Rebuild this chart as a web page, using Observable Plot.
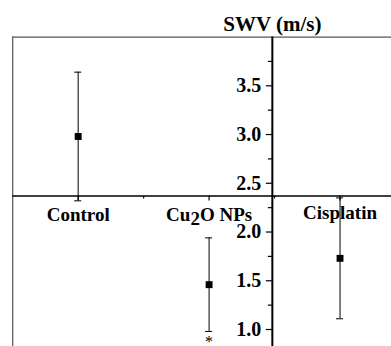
<!DOCTYPE html>
<html>
<head>
<meta charset="utf-8">
<script src="https://cdn.jsdelivr.net/npm/d3@7"></script>
<script src="https://cdn.jsdelivr.net/npm/@observablehq/plot@0.6"></script>
<style>
  html, body { margin: 0; padding: 0; background: #fff; }
</style>
</head>
<body>
<div id="chart"></div>
<script>
// ---- data ----
const categories = ["Control", "Cu2O NPs", "Cisplatin"];
const means = [2.98, 1.46, 1.73];
const errors = [0.66, 0.48, 0.62];
const significance = ["", "*", ""];
const majorTicks = [1.0, 1.5, 2.0, 2.5, 3.0, 3.5];
const minorTicks = [1.25, 1.75, 2.25, 2.75, 3.25, 3.75];
const yTitle = "SWV (m/s)";

// ---- layout (scale settings) ----
const W = 391, H = 346;
const xDomain = [0.5, 3.5], xRange = [12.2, 405];
const yDomain = [1, 3.5], yRange = [329, 85.3];
const xCross = 2.483;   // where the y axis sits (x value)
const yCross = 2.37;    // where the x axis sits (y value)
const yTop = 4.0, yBottom = 0.5;

const xs = d3.scaleLinear(xDomain, xRange);
const ys = d3.scaleLinear(yDomain, yRange);

const rows = categories.map((c, i) => ({
  i: i + 1, name: c, mean: means[i], lo: means[i] - errors[i], hi: means[i] + errors[i], sig: significance[i]
}));

const font = "Liberation Serif";

const plot = Plot.plot({
  width: W,
  height: H,
  marginLeft: xs(xCross),
  marginRight: 0,
  marginTop: 0,
  marginBottom: H - ys(yCross),
  style: "background: #fff; color: #000; overflow: hidden; font-family: 'Liberation Serif';",
  x: { type: "linear", domain: xDomain, range: xRange, axis: null },
  y: { type: "linear", domain: yDomain, range: yRange, axis: null },
  marks: [
    Plot.ruleY([yTop], { x1: xDomain[0], x2: xDomain[1], stroke: "#555", strokeWidth: 1.2 }),
    Plot.ruleX([xDomain[0]], { y1: yTop, y2: yBottom, stroke: "#555", strokeWidth: 1.2 }),
    Plot.ruleY([yCross], { x1: xDomain[0], x2: xDomain[1], stroke: "#000", strokeWidth: 1.4 }),
    Plot.ruleX([xCross], { y1: yTop, y2: yBottom, stroke: "#000", strokeWidth: 2 }),
    Plot.axisY({
      anchor: "left", ticks: majorTicks, tickSize: 6, tickPadding: 5,
      tickFormat: d3.format(".1f"), label: null,
      fontSize: 20, fontWeight: "bold", strokeWidth: 1.2
    }),
    Plot.axisY({
      anchor: "left", ticks: minorTicks, tickSize: 4, tickFormat: () => "", label: null, strokeWidth: 1.2
    }),
    Plot.axisX({
      anchor: "bottom", ticks: [1, 2, 3], tickSize: 5, tickFormat: () => "", label: null, strokeWidth: 1.2
    }),
    Plot.axisX({
      anchor: "bottom", ticks: [1.5, 2.5], tickSize: 3, tickFormat: () => "", label: null, strokeWidth: 1.2
    }),
    Plot.text(rows, {
      x: "i", y: () => yCross, text: "name", lineAnchor: "bottom",
      fontSize: 19, fontWeight: "bold", fill: "#000"
    }),
    Plot.ruleX(rows, { x: "i", y1: "lo", y2: "hi", stroke: "#000", strokeWidth: 1 }),
    Plot.ruleY(rows, { y: "lo", x1: (d) => d.i - 0.027, x2: (d) => d.i + 0.027, stroke: "#000", strokeWidth: 1 }),
    Plot.ruleY(rows, { y: "hi", x1: (d) => d.i - 0.027, x2: (d) => d.i + 0.027, stroke: "#000", strokeWidth: 1 }),
    Plot.dot(rows, { x: "i", y: "mean", symbol: "square", r: 3.9, fill: "#000", stroke: "none" }),
    Plot.text(rows.filter(d => d.sig), {
      x: "i", y: "lo", text: "sig", lineAnchor: "bottom", dy: 16, fontSize: 16, fill: "#000"
    }),
    Plot.text([yTitle], {
      x: () => xCross, y: () => yTop, text: (d) => d, lineAnchor: "bottom", dy: -6.5,
      fontSize: 21, fontWeight: "bold", fill: "#000"
    })
  ]
});

// force the serif face on every text node
d3.select(plot).attr("font-family", font);
d3.select(plot).selectAll("g, text").attr("font-family", font).style("font-family", font);

// per-label vertical offsets (baseline below the x axis), and subscript
const labelDy = { "Control": 25.5, "Cu2O NPs": 25.5, "Cisplatin": 23 };
d3.select(plot).selectAll("text").each(function () {
  const t = this.textContent;
  if (t in labelDy) {
    const sel = d3.select(this);
    const cur = this.getAttribute("transform") || "";
    sel.attr("transform", cur + ` translate(0,${labelDy[t]})`);
    if (t === "Cu2O NPs") {
      sel.text(null);
      sel.append("tspan").text("Cu");
      sel.append("tspan").attr("dy", 4).text("2");
      sel.append("tspan").attr("dy", -4).text("O NPs");
    }
  }
});

document.getElementById("chart").appendChild(plot);
</script>
</body>
</html>
